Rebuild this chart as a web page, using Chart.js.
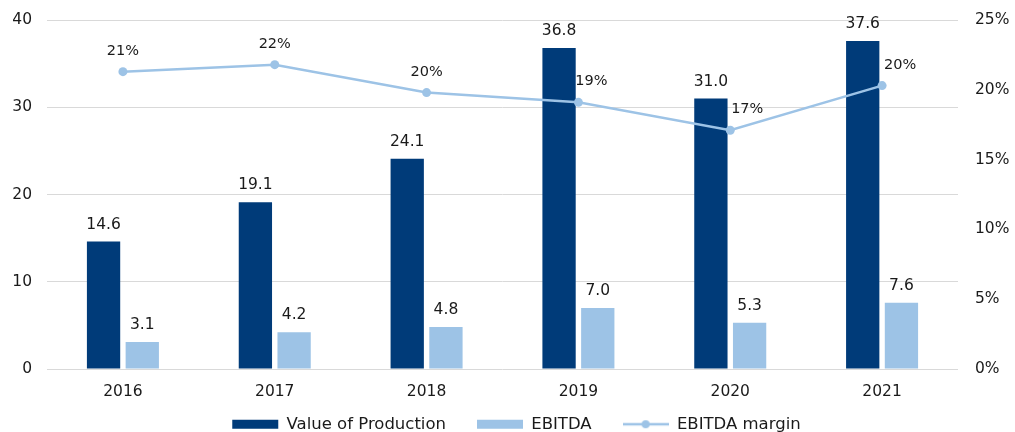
<!DOCTYPE html>
<html>
<head>
<meta charset="utf-8">
<script src="https://cdn.jsdelivr.net/npm/chart.js@4/dist/chart.umd.min.js"></script>
<style>
  html, body { margin: 0; padding: 0; background: #fff; }
  #wrap { width: 1015px; height: 432px; }
</style>
</head>
<body>
<div id="wrap"><canvas id="chart" width="1015" height="432"></canvas></div>
<script>
// chart data
const years = ['2016', '2017', '2018', '2019', '2020', '2021'];
const valueOfProduction = [14.6, 19.1, 24.1, 36.8, 31.0, 37.6];
const ebitda = [3.1, 4.2, 4.8, 7.0, 5.3, 7.6];
const ebitdaMargin = [21.3, 21.8, 19.8, 19.1, 17.1, 20.3];
const leftTicks = [0, 10, 20, 30, 40];
const rightTicks = [0, 5, 10, 15, 20, 25];

const darkBlue = '#003B79';
const lightBlue = '#9DC3E6';
const textColor = '#1a1a1a';
const fontFamily = '"DejaVu Sans", Verdana, sans-serif';

// shift some margin labels right so they clear the bar labels
const marginLabelShift = [0, 0, 0, 13, 17, 18];

// legend symbol for the line series: short line with a dot
function lineSymbol() {
    const c = document.createElement('canvas');
    c.width = 46;
    c.height = 10;
    const g = c.getContext('2d');
    g.strokeStyle = lightBlue;
    g.lineWidth = 2.5;
    g.beginPath();
    g.moveTo(0, 5);
    g.lineTo(46, 5);
    g.stroke();
    g.fillStyle = lightBlue;
    g.beginPath();
    g.arc(23, 5, 4, 0, Math.PI * 2);
    g.fill();
    return c;
}

const valueLabels = {
    id: 'valueLabels',
    afterDatasetsDraw(chart) {
        const ctx = chart.ctx;
        ctx.save();
        ctx.fillStyle = textColor;
        ctx.textAlign = 'center';
        ctx.textBaseline = 'alphabetic';

        // bar labels
        ctx.font = '15.5px ' + fontFamily;
        [0, 1].forEach(di => {
            chart.getDatasetMeta(di).data.forEach((bar, i) => {
                const v = chart.data.datasets[di].data[i];
                ctx.fillText(v.toFixed(1), bar.x, bar.y - 13);
            });
        });

        // margin labels
        ctx.font = '14.5px ' + fontFamily;
        chart.getDatasetMeta(2).data.forEach((pt, i) => {
            const v = chart.data.datasets[2].data[i];
            ctx.fillText(Math.round(v) + '%', pt.x + marginLabelShift[i], pt.y - 17);
        });
        ctx.restore();
    }
};

// after layout: nudge the legend right a bit, and give the x labels
// room below the squeezed axis box so they are not clipped
const layoutTweaks = {
    id: 'layoutTweaks',
    afterLayout(chart) {
        chart.legend.left += 9;
        chart.legend.right += 9;
        chart.scales.x.bottom = chart.scales.x.top + 36;
    }
};

// y axes: fixed width, no extra top/bottom padding for the labels
function fixAxis(width) {
    return scale => {
        scale.width = width;
        scale.paddingTop = 0;
        scale.paddingBottom = 0;
    };
}

Chart.defaults.font.family = fontFamily;

const ctx = document.getElementById('chart').getContext('2d');
new Chart(ctx, {
    type: 'bar',
    data: {
        labels: years,
        datasets: [
            {
                label: 'Value of Production',
                data: valueOfProduction,
                backgroundColor: darkBlue,
                yAxisID: 'y',
                order: 1,
                categoryPercentage: 0.51,
                barPercentage: 0.86
            },
            {
                label: 'EBITDA',
                data: ebitda,
                backgroundColor: lightBlue,
                yAxisID: 'y',
                order: 1,
                categoryPercentage: 0.51,
                barPercentage: 0.86
            },
            {
                type: 'line',
                label: 'EBITDA margin',
                data: ebitdaMargin,
                borderColor: lightBlue,
                backgroundColor: lightBlue,
                borderWidth: 2.5,
                pointRadius: 4.5,
                pointBackgroundColor: lightBlue,
                pointBorderWidth: 0,
                tension: 0,
                yAxisID: 'y1',
                order: 0
            }
        ]
    },
    options: {
        responsive: false,
        animation: false,
        layout: {
            padding: { top: 20, left: 0, right: 0, bottom: 0 }
        },
        plugins: {
            tooltip: { enabled: false },
            legend: {
                position: 'bottom',
                maxHeight: 47,
                labels: {
                    color: textColor,
                    font: { family: fontFamily, size: 16.5 },
                    usePointStyle: true,
                    pointStyleWidth: 46,
                    boxWidth: 46,
                    boxHeight: 9,
                    padding: 31,
                    sort: (a, b) => a.datasetIndex - b.datasetIndex,
                    generateLabels(chart) {
                        const items = Chart.defaults.plugins.legend.labels.generateLabels(chart);
                        items.forEach(item => {
                            item.lineWidth = 0;
                            item.pointStyle = item.datasetIndex === 2 ? lineSymbol() : 'rect';
                        });
                        return items;
                    }
                }
            }
        },
        scales: {
            x: {
                grid: { display: false, drawTicks: false },
                border: { display: false },
                ticks: {
                    color: textColor,
                    font: { family: fontFamily, size: 15.5 },
                    padding: 14
                },
                afterFit(scale) { scale.height = 16; }
            },
            y: {
                position: 'left',
                min: leftTicks[0],
                max: leftTicks[leftTicks.length - 1],
                afterBuildTicks(scale) { scale.ticks = leftTicks.map(v => ({ value: v })); },
                grid: { color: '#d9d9d9', lineWidth: 1, drawTicks: false },
                border: { display: false },
                ticks: {
                    color: textColor,
                    font: { family: fontFamily, size: 15.5 },
                    padding: 15
                },
                afterFit: fixAxis(47)
            },
            y1: {
                position: 'right',
                min: rightTicks[0],
                max: rightTicks[rightTicks.length - 1],
                afterBuildTicks(scale) { scale.ticks = rightTicks.map(v => ({ value: v })); },
                grid: { display: false, drawTicks: false },
                border: { display: false },
                ticks: {
                    color: textColor,
                    font: { family: fontFamily, size: 15.5 },
                    padding: 17,
                    callback: v => v + '%'
                },
                afterFit: fixAxis(57)
            }
        }
    },
    plugins: [valueLabels, layoutTweaks]
});
</script>
</body>
</html>
